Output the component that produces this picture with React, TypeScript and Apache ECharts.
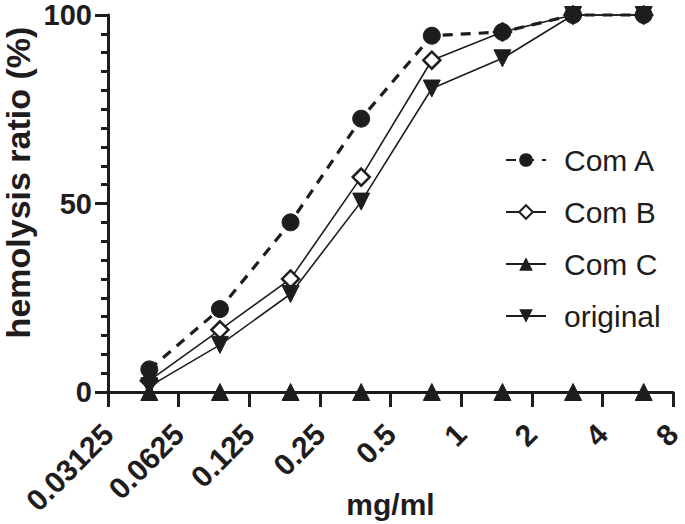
import React, { useEffect, useRef } from "react";
import * as echarts from "echarts";

const concentrations = [0.046875, 0.09375, 0.1875, 0.375, 0.75, 1.5, 3, 6];
const comA = [6, 22, 45, 72.5, 94.5, 95.5, 100, 100];
const comB = [3, 16.5, 30, 57, 88, 95.5, 100, 100];
const comC = [0, 0, 0, 0, 0, 0, 0, 0];
const original = [1.5, 12.5, 26, 50.5, 80.5, 88.5, 100, 100];
const xTickLabels = ["0.03125", "0.0625", "0.125", "0.25", "0.5", "1", "2", "4", "8"];
const seriesNames = ["Com A", "Com B", "Com C", "original"];

const INK = "#1e1c1d";
const FONT = "'Liberation Sans', Arial, sans-serif";

function pairs(vals: number[]) {
  return concentrations.map((c, i) => [c, vals[i]]);
}

function xLabel(v: number) {
  let best = xTickLabels[0];
  let bd = Infinity;
  for (const l of xTickLabels) {
    const d = Math.abs(Math.log2(Number(l)) - Math.log2(v));
    if (d < bd) {
      bd = d;
      best = l;
    }
  }
  return best;
}

export default function App() {
  const ref = useRef<HTMLDivElement>(null);
  useEffect(() => {
    if (!ref.current) return;
    const chart = echarts.init(ref.current, null, { renderer: "svg" });
    const common = {
      type: "line",
      clip: false,
      symbolSize: 17,
      itemStyle: { color: INK, borderColor: INK },
      lineStyle: { color: INK, width: 1.6 },
      emphasis: { disabled: true },
    };
    chart.setOption({
      animation: false,
      backgroundColor: "#ffffff",
      textStyle: { fontFamily: FONT, color: INK },
      grid: {
        left: 108,
        right: 12,
        top: 15,
        bottom: 132,
        containLabel: false,
        outerBoundsMode: "none",
      },
      legend: {
        data: seriesNames,
        orient: "vertical",
        left: 500,
        top: 138,
        itemWidth: 40,
        itemHeight: 17,
        itemGap: 18,
        textStyle: {
          fontFamily: FONT,
          fontSize: 30,
          color: INK,
          lineHeight: 34,
          padding: [0, 0, 0, 13],
        },
      },
      xAxis: {
        type: "log",
        logBase: 2,
        min: 0.03125,
        max: 8,
        splitNumber: 8,
        name: "mg/ml",
        nameLocation: "middle",
        nameGap: 97,
        nameMoveOverlap: false,
        nameTextStyle: { fontFamily: FONT, fontSize: 30, fontWeight: "bold", color: INK },
        axisLine: { show: true, lineStyle: { color: INK, width: 3 } },
        axisTick: { show: true, length: 15, lineStyle: { color: INK, width: 3 } },
        minorTick: { show: false },
        splitLine: { show: false },
        axisLabel: {
          rotate: 45,
          margin: 37,
          fontFamily: FONT,
          fontSize: 30,
          fontWeight: "bold",
          lineHeight: 22,
          color: INK,
          hideOverlap: false,
          formatter: (v: number) => xLabel(v),
        },
      },
      yAxis: {
        type: "value",
        min: 0,
        max: 100,
        interval: 50,
        name: "hemolysis ratio (%)",
        nameLocation: "middle",
        nameGap: 75,
        nameMoveOverlap: false,
        nameTextStyle: {
          fontFamily: FONT,
          fontSize: 34,
          fontWeight: "bold",
          color: INK,
          lineHeight: 30,
          padding: [0, 0, 0, 42],
        },
        axisLine: { show: true, lineStyle: { color: INK, width: 3 } },
        axisTick: { show: true, length: 13, lineStyle: { color: INK, width: 3 } },
        minorTick: { show: true, splitNumber: 10, length: 7, lineStyle: { color: INK, width: 3 } },
        splitLine: { show: false },
        minorSplitLine: { show: false },
        axisLabel: {
          margin: 16,
          fontFamily: FONT,
          fontSize: 29,
          fontWeight: "bold",
          color: INK,
        },
      },
      series: [
        {
          ...common,
          name: "Com B",
          data: pairs(comB),
          symbol: "diamond",
          itemStyle: { color: "#ffffff", borderColor: INK, borderWidth: 2.5 },
          z: 2,
        },
        {
          ...common,
          name: "original",
          data: pairs(original),
          symbol: "triangle",
          symbolRotate: 180,
          z: 3,
        },
        {
          ...common,
          name: "Com C",
          data: pairs(comC),
          symbol: "triangle",
          z: 4,
        },
        {
          ...common,
          name: "Com A",
          data: pairs(comA),
          symbol: "circle",
          lineStyle: { color: INK, width: 3.2, type: [10, 8] },
          z: 5,
        },
      ],
    });
    return () => chart.dispose();
  }, []);
  return (
    <div
      ref={ref}
      style={{ position: "fixed", left: 0, top: 0, width: 685, height: 524, background: "#fff" }}
    />
  );
}
